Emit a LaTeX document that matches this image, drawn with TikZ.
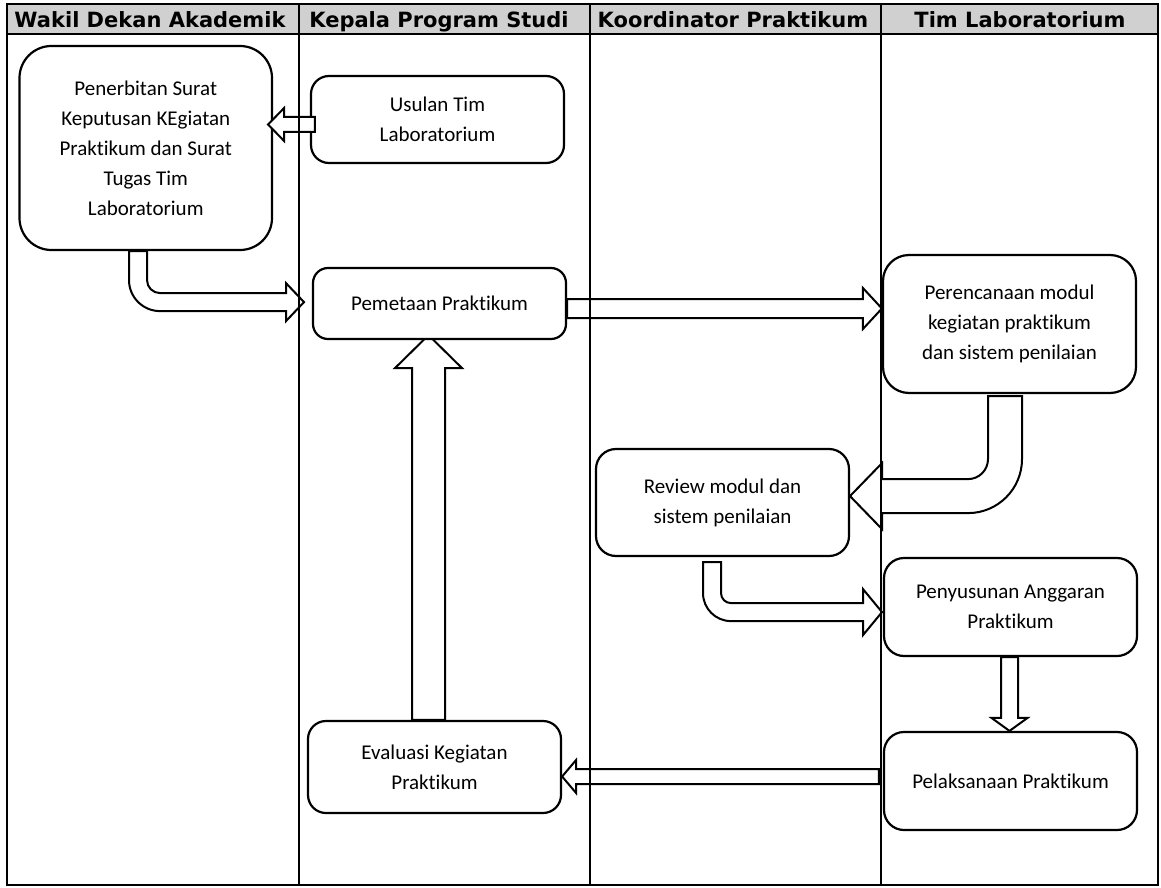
\documentclass[tikz,border=0pt]{standalone}
\usepackage{fontspec}
\setmainfont{Carlito}[Ligatures=NoCommon]
\newfontfamily\headfont{DejaVu Sans}
\usetikzlibrary{calc}
\definecolor{laneheadfill}{RGB}{208,208,208}

\pgfdeclarelayer{base}
\pgfdeclarelayer{under}
\pgfsetlayers{base,under,main}

% straight block arrow: tail, tip, shaft half width, head half width, head length
\newcommand\flowarrow[5]{%
  \coordinate (fa-t) at #1;
  \coordinate (fa-h) at #2;
  \coordinate (fa-b) at ($(fa-h)!#5pt!(fa-t)$);
  \draw[blockline]
    ($(fa-t)!#3pt!90:(fa-h)$) -- ($(fa-b)!#3pt!90:(fa-h)$) --
    ($(fa-b)!#4pt!90:(fa-h)$) -- (fa-h) --
    ($(fa-b)!#4pt!-90:(fa-h)$) -- ($(fa-b)!#3pt!-90:(fa-h)$) --
    ($(fa-t)!#3pt!-90:(fa-h)$) -- cycle;
}

\tikzset{
  procbox/.style={draw=black, line width=2.2pt, fill=white, align=center,
    inner sep=0pt, font=\fontsize{21}{30}\selectfont},
  blockline/.style={draw=black, line width=2pt, fill=white, line join=miter},
  laneline/.style={draw=black, line width=1.6pt},
  lanetitle/.style={anchor=base, inner sep=0pt,
    font=\headfont\bfseries\fontsize{21}{25}\selectfont},
}

\begin{document}
\begin{tikzpicture}[x=1pt, y=-1pt]
  \useasboundingbox (0,0) rectangle (1161,888);
  \begin{pgfonlayer}{base}
    \fill[white] (0,0) rectangle (1161,888);
    \fill[laneheadfill] (7,4) rectangle (1158,34);
  \end{pgfonlayer}

  % lane titles
  \node[lanetitle] (h1) at (150,28) {Wakil Dekan Akademik};
  \node[lanetitle] (h2) at (439,28) {Kepala Program Studi};
  \node[lanetitle] (h3) at (733,28) {Koordinator Praktikum};
  \node[lanetitle] (h4) at (1020,28) {Tim Laboratorium};

  % process boxes
  \node[procbox, minimum width=252.5pt, minimum height=204pt, rounded corners=32pt]
    (pen) at (145.75,148) {Penerbitan Surat\\Keputusan KEgiatan\\Praktikum dan Surat\\Tugas Tim\\Laboratorium};
  \node[procbox, minimum width=253pt, minimum height=87pt, rounded corners=18pt]
    (usu) at (437.5,119.5) {Usulan Tim\\Laboratorium};
  \node[procbox, minimum width=253pt, minimum height=71pt, rounded corners=15pt]
    (pem) at (439.5,303.5) {Pemetaan Praktikum};
  \node[procbox, minimum width=253pt, minimum height=138pt, rounded corners=26pt]
    (per) at (1009.5,324) {Perencanaan modul\\kegiatan praktikum\\dan sistem penilaian};
  \node[procbox, minimum width=253pt, minimum height=107pt, rounded corners=20pt]
    (rev) at (722.5,502.5) {Review modul dan\\sistem penilaian};
  \node[procbox, minimum width=253pt, minimum height=98pt, rounded corners=20pt]
    (pys) at (1010.5,607) {Penyusunan Anggaran\\Praktikum};
  \node[procbox, minimum width=253pt, minimum height=92pt, rounded corners=18pt]
    (eva) at (434.5,767) {Evaluasi Kegiatan\\Praktikum};
  \node[procbox, minimum width=253pt, minimum height=98pt, rounded corners=20pt]
    (pel) at (1010.5,781) {Pelaksanaan Praktikum};

  % evaluation feeds back up to the mapping step; its tip runs under the box
  \begin{pgfonlayer}{under}
    \flowarrow{($(eva.north)+(-6,0)$)}{($(pem.south)+(-11,-5)$)}{16.5}{33.5}{33}
  \end{pgfonlayer}

  % straight connectors
  \flowarrow{($(usu.west)+(5,5)$)}{($(pen.east)+(-5,-23.5)$)}{7.5}{16.5}{16}
  \flowarrow{($(pem.east)+(0,5)$)}{($(per.west)+(0,-15.5)$)}{9.5}{20.5}{19}
  \flowarrow{($(pys.south)+(-1,0)$)}{($(pel.north)+(-1,0)$)}{8.5}{18}{13}
  \flowarrow{($(pel.west)+(-4,-4.5)$)}{($(eva.east)+(0,9.5)$)}{7.5}{16.5}{14}

  % bent connectors
  \draw[blockline] ($(pen.south)+(-16.75,0)$) -- ++(0,29)
    arc[start angle=180, end angle=90, radius=31] -- ++(126,0) -- ++(0,10)
    -- ++(18,-19) -- ++(-18,-19) -- ++(0,10) -- ++(-126,0)
    arc[start angle=90, end angle=180, radius=13] -- ++(0,-29) -- cycle;
  \draw[blockline] ($(per.south)+(12.5,2)$) -- ++(0,63)
    arc[start angle=0, end angle=90, radius=54] -- ++(-86,0) -- ++(0,16)
    -- ++(-32,-33) -- ++(32,-33) -- ++(0,16) -- ++(86,0)
    arc[start angle=90, end angle=0, radius=20] -- ++(0,-63) -- cycle;
  \draw[blockline] ($(rev.south)+(-19.5,5)$) -- ++(0,31)
    arc[start angle=180, end angle=90, radius=28] -- ++(132,0) -- ++(0,14)
    -- ++(19,-23) -- ++(-19,-23) -- ++(0,14) -- ++(-132,0)
    arc[start angle=90, end angle=180, radius=10] -- ++(0,-31) -- cycle;

  % swimlane frame and separators
  \draw[laneline] (7,4) rectangle (1158,885);
  \draw[laneline] (7,34) -- (1158,34);
  \draw[laneline] (299,4) -- (299,885);
  \draw[laneline] (590,4) -- (590,885);
  \draw[laneline] (881,4) -- (881,885);
\end{tikzpicture}
\end{document}
